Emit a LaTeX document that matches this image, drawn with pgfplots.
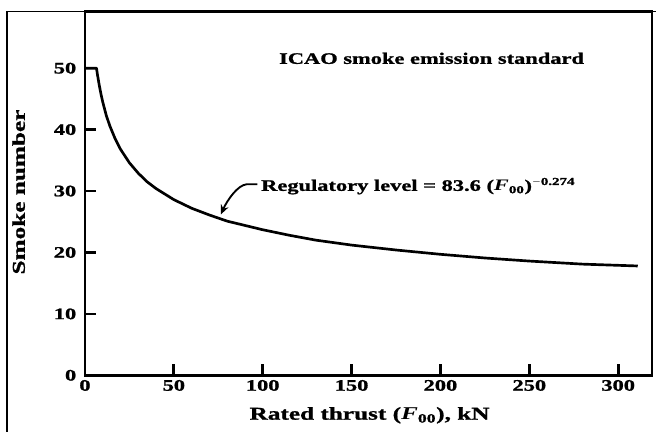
\documentclass[border=0pt]{standalone}
\usepackage{fontspec}
\setmainfont{Liberation Serif}[FakeStretch=1.4, BoldFeatures={FakeBold=1.2}]
\usepackage{pgfplots}
\pgfplotsset{compat=1.18}
\usetikzlibrary{arrows.meta}

\begin{document}
\begin{tikzpicture}[font=\fontsize{12}{14}\selectfont\bfseries]
\begin{axis}[
  scale only axis, width=424.5pt, height=272.25pt,
  xmin=0, xmax=319, ymin=0, ymax=59.2,
  axis line style={line width=1.8pt},
  major tick style={black, line width=1.6pt},
  major tick length=8pt,
  xtick={0,50,...,300}, ytick={0,10,...,50},
  xtick align=inside, ytick align=inside,
  xtick pos=left, ytick pos=left,
  /pgf/number format/assume math mode=true,
  yticklabel style={xshift=-3pt},
  xlabel={Rated thrust (\textit{F}\textsubscript{00}), kN},
  ylabel={Smoke number},
  label style={font=\fontsize{13.5}{15}\selectfont\bfseries},
  xlabel style={at={(axis description cs:0.502,-0.11)}, anchor=center},
  ylabel style={at={(axis description cs:-0.117,0.504)}, anchor=center},
  clip=false,
]
% regulatory level curve
\addplot[black, line width=2pt, line join=round] coordinates {
  (0,50) (6.5,50) (7,49.0) (8,47.3) (9,45.8) (10,44.5) (12,42.3)
  (14,40.6) (17,38.5) (20,36.8) (25,34.6) (30,32.9) (35,31.5)
  (40,30.4) (50,28.6) (60,27.2) (70,26.1) (80,25.1) (90,24.4)
  (100,23.7) (115,22.8) (130,22.0) (150,21.2) (175,20.4) (200,19.7)
  (225,19.1) (250,18.6) (280,18.1) (311,17.8)
};
\node[anchor=center] at (axis cs:195,51.6) {ICAO smoke emission standard};
\node[anchor=west, inner sep=0pt] at (axis cs:99,30.8)
  {Regulatory level = 83.6 (\textit{F}\textsubscript{00})\textsuperscript{$-$0.274}};
\draw[line width=1.4pt, -{Stealth[length=7pt,width=6pt]}]
  (axis cs:97,31.1) -- (axis cs:91,31.1) .. controls (axis cs:86,31) and (axis cs:80,28.5) .. (axis cs:76.5,26.2);
% tick marks, drawn inward
\draw[line width=2pt] (axis cs:50,0) -- (axis cs:50,1.8);
\draw[line width=2pt] (axis cs:100,0) -- (axis cs:100,1.8);
\draw[line width=2pt] (axis cs:150,0) -- (axis cs:150,1.8);
\draw[line width=2pt] (axis cs:200,0) -- (axis cs:200,1.8);
\draw[line width=2pt] (axis cs:250,0) -- (axis cs:250,1.8);
\draw[line width=2pt] (axis cs:300,0) -- (axis cs:300,1.8);
\draw[line width=2pt] (axis cs:0,10) -- (axis cs:6.2,10);
\draw[line width=2pt] (axis cs:0,20) -- (axis cs:6.2,20);
\draw[line width=2pt] (axis cs:0,30) -- (axis cs:6.2,30);
\draw[line width=2pt] (axis cs:0,40) -- (axis cs:6.2,40);
% outer frame of the scanned figure
\draw[line width=1.2pt] (axis cs:-44,-9.2) -- (axis cs:-44,59.2) -- (axis cs:321,59.2);
\path (axis cs:-47.8,-9.2) rectangle (axis cs:322.4,61.1);
\end{axis}
\end{tikzpicture}
\end{document}
